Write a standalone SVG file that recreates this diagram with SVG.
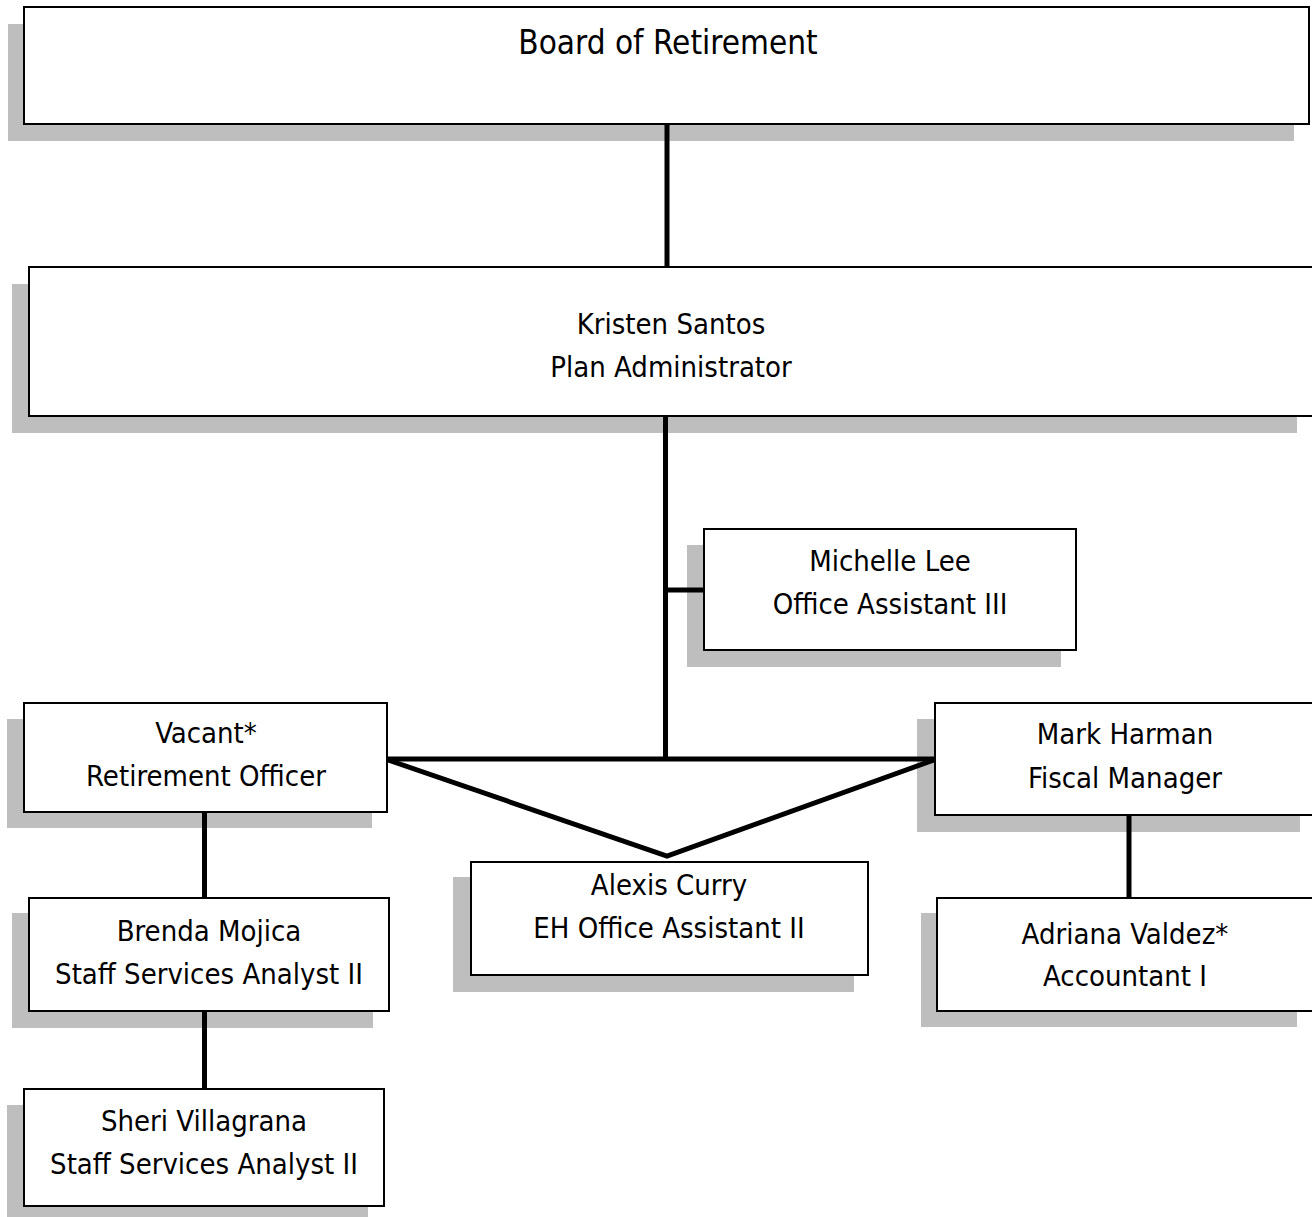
<svg xmlns="http://www.w3.org/2000/svg" width="1312" height="1217" viewBox="0 0 1312 1217">
<style>
.shadow{fill:#bebebe;stroke:none}
.box{fill:#ffffff;stroke:#000000;stroke-width:2}
.conn{stroke:#000000;stroke-width:5;fill:none;stroke-linecap:butt}
text{font-family:"DejaVu Sans Condensed","DejaVu Sans","Liberation Sans",sans-serif;font-stretch:condensed;font-size:29px;fill:#000;text-anchor:middle}
.title{font-size:33px}
</style>
<rect width="1312" height="1217" fill="#ffffff"/>
<g id="board">
<rect class="shadow" x="8" y="24" width="1286" height="117"/>
<rect class="box" x="24" y="7" width="1285" height="117"/>
<text class="title" x="668" y="54">Board of Retirement</text>
</g>
<g id="kristen">
<rect class="shadow" x="12" y="284" width="1285" height="149"/>
<rect class="box" x="29" y="267" width="1290" height="149"/>
<text x="671" y="334">Kristen Santos</text>
<text x="671" y="377">Plan Administrator</text>
</g>
<g id="michelle">
<rect class="shadow" x="687" y="545" width="374" height="122"/>
<rect class="box" x="704" y="529" width="372" height="121"/>
<text x="890" y="571">Michelle Lee</text>
<text x="890" y="614">Office Assistant III</text>
</g>
<g id="vacant">
<rect class="shadow" x="7" y="719" width="365" height="109"/>
<rect class="box" x="24" y="703" width="363" height="109"/>
<text x="206" y="743">Vacant*</text>
<text x="206" y="786">Retirement Officer</text>
</g>
<g id="mark">
<rect class="shadow" x="917" y="719" width="383" height="113"/>
<rect class="box" x="935" y="703" width="390" height="112"/>
<text x="1125" y="744">Mark Harman</text>
<text x="1125" y="788">Fiscal Manager</text>
</g>
<g id="alexis">
<rect class="shadow" x="453" y="877" width="401" height="115"/>
<rect class="box" x="471" y="862" width="397" height="113"/>
<text x="669" y="895">Alexis Curry</text>
<text x="669" y="938">EH Office Assistant II</text>
</g>
<g id="brenda">
<rect class="shadow" x="12" y="913" width="361" height="115"/>
<rect class="box" x="29" y="898" width="360" height="113"/>
<text x="209" y="941">Brenda Mojica</text>
<text x="209" y="984">Staff Services Analyst II</text>
</g>
<g id="adriana">
<rect class="shadow" x="921" y="913" width="376" height="114"/>
<rect class="box" x="937" y="898" width="390" height="113"/>
<text x="1125" y="944">Adriana Valdez*</text>
<text x="1125" y="986">Accountant I</text>
</g>
<g id="sheri">
<rect class="shadow" x="7" y="1105" width="361" height="120"/>
<rect class="box" x="24" y="1089" width="360" height="117"/>
<text x="204" y="1131">Sheri Villagrana</text>
<text x="204" y="1174">Staff Services Analyst II</text>
</g>
<g id="connectors">
<line class="conn" x1="667" y1="125" x2="667" y2="266"/>
<line class="conn" x1="665.5" y1="417" x2="665.5" y2="757"/>
<line class="conn" x1="665" y1="590" x2="703" y2="590"/>
<line class="conn" x1="388" y1="759" x2="934" y2="759"/>
<polyline class="conn" points="388,760 667,856 934,760" stroke-linejoin="miter"/>
<line class="conn" x1="204.5" y1="813" x2="204.5" y2="897"/>
<line class="conn" x1="204.5" y1="1012" x2="204.5" y2="1088"/>
<line class="conn" x1="1129" y1="816" x2="1129" y2="897"/>
</g>
</svg>
